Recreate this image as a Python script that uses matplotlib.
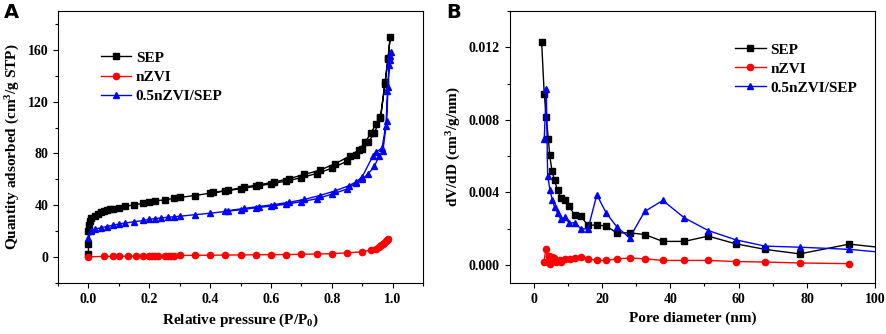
import matplotlib.pyplot as plt
from matplotlib.ticker import MultipleLocator

plt.rcParams['font.family'] = ['Liberation Serif', 'DejaVu Serif']
plt.rcParams['font.weight'] = 'bold'
plt.rcParams['mathtext.default'] = 'regular'

# Panel A: N2 isotherms (adsorption branch then desorption branch)
sep_p = [0.0, 0.0, 0.0, 0.002, 0.005, 0.01, 0.02, 0.03, 0.04, 0.05, 0.06, 0.07, 0.08, 0.1,
         0.12, 0.15, 0.18, 0.2, 0.22, 0.25, 0.28, 0.3, 0.35, 0.4, 0.45, 0.5, 0.55, 0.6,
         0.65, 0.7, 0.75, 0.8, 0.85, 0.88, 0.9, 0.92, 0.94, 0.96, 0.975, 0.985, 0.992,
         0.985, 0.975, 0.96, 0.945, 0.93, 0.91, 0.89, 0.86, 0.81, 0.76, 0.71, 0.66,
         0.61, 0.56, 0.51, 0.46, 0.41]
sep_q = [2, 10, 20, 25, 28, 30, 32, 33.5, 34.5, 35.3, 36, 36.7, 37.3, 38.2,
         39.2, 40.2, 41.5, 42.5, 43.3, 44.2, 45.2, 46, 47.5, 49.3, 51, 52.8, 54.6, 56.5,
         58.6, 61.3, 64.5, 68.5, 74, 79, 83.5, 88.5, 96, 107, 135, 153, 170,
         154, 134, 108, 103, 96, 89, 83, 78, 72, 67, 63.8, 60.5, 58, 55.7, 54, 51.5, 50]

nzvi_p = [0.0, 0.05, 0.08, 0.1, 0.13, 0.155, 0.18, 0.2, 0.21, 0.22, 0.23, 0.25, 0.26,
          0.27, 0.28, 0.3, 0.35, 0.4, 0.45, 0.5, 0.55, 0.6, 0.65, 0.7, 0.75, 0.8, 0.85,
          0.9, 0.93, 0.945, 0.955, 0.962, 0.968, 0.973, 0.977, 0.98, 0.983, 0.985]
nzvi_q = [0.2, 0.4, 0.5, 0.6, 0.6, 0.7, 0.8, 0.8, 0.9, 0.9, 0.9, 1.0, 1.0,
          1.0, 1.1, 1.2, 1.3, 1.4, 1.5, 1.6, 1.7, 1.8, 1.9, 2.1, 2.3, 2.6, 3.2,
          4.0, 5.5, 6.5, 8, 9, 10, 11, 12, 13, 13.5, 14]

mix_p = [0.0, 0.01, 0.02, 0.04, 0.06, 0.08, 0.1, 0.12, 0.15, 0.18, 0.2, 0.22, 0.24,
         0.26, 0.28, 0.3, 0.35, 0.4, 0.45, 0.5, 0.55, 0.6, 0.65, 0.7, 0.75, 0.8, 0.85,
         0.88, 0.9, 0.92, 0.94, 0.955, 0.968, 0.978, 0.983, 0.988, 0.992, 0.994,
         0.99, 0.985, 0.98, 0.965, 0.945, 0.935, 0.9, 0.88, 0.855, 0.81, 0.76, 0.71,
         0.66, 0.61, 0.56, 0.51, 0.46]
mix_q = [15, 20, 21.5, 22.5, 23.5, 24.5, 25.5, 26.2, 27.2, 28.2, 29, 29.7, 30.2,
         30.7, 31, 31.5, 32.7, 33.8, 35.2, 36.5, 38, 39.3, 40.8, 42.7, 45, 48.5, 52.5,
         57, 60, 64.5, 70, 78, 82, 101, 128, 148, 155, 158,
         152, 131, 105, 84, 81, 78, 62, 58, 55, 51, 47.5, 44.5, 42.3, 40.5, 39, 37.5, 35.8]

# Panel B: pore size distribution
sep_d = [2.34, 3.1, 3.7, 4.3, 4.7, 5.4, 6.15, 7.0, 8.0, 9.2, 10.4, 12.1, 13.8, 15.9,
         18.5, 21.2, 24.4, 28.1, 32.5, 37.8, 44.1, 51.1, 59.1, 67.7, 77.9, 92.4, 110]
sep_v = [0.01229, 0.00943, 0.00814, 0.00695, 0.00603, 0.00516, 0.00465, 0.0041,
         0.0037, 0.00355, 0.00322, 0.00272, 0.00268, 0.00217, 0.0022, 0.00213,
         0.00176, 0.00176, 0.00167, 0.00129, 0.00129, 0.00158, 0.00116, 0.00085,
         0.0006, 0.00114, 0.00078]

nzvi_d = [3.0, 3.6, 4.2, 4.5, 4.9, 5.4, 6.1, 6.6, 7.6, 8.1, 9.1, 10.5, 12.1, 13.8,
          15.9, 18.5, 21.2, 24.4, 28.1, 32.5, 37.8, 44.1, 51.1, 59.1, 67.7, 77.9, 92.4]
nzvi_v = [0.00015, 0.00088, 0.00015, 0.0005, 0.00006, 0.00042, 0.00037, 0.00018,
          0.00024, 0.00018, 0.00033, 0.00033, 0.00037, 0.00042, 0.00033, 0.00024,
          0.00024, 0.00033, 0.00037, 0.00033, 0.00024, 0.00024, 0.00024, 0.00018,
          0.00015, 0.0001, 0.00006]

mix_d = [3.1, 3.7, 4.1, 4.8, 5.5, 6.15, 7.0, 8.0, 9.2, 10.4, 12.1, 13.8, 15.9, 18.5,
         21.2, 24.4, 28.1, 32.5, 37.8, 44.1, 51.1, 59.1, 67.7, 77.9, 92.4, 110]
mix_v = [0.00695, 0.0097, 0.00492, 0.0041, 0.00355, 0.00318, 0.00287, 0.0025,
         0.00263, 0.0023, 0.00232, 0.00198, 0.00198, 0.00386, 0.00287, 0.00208,
         0.00149, 0.00294, 0.00355, 0.00259, 0.00189, 0.00138, 0.00103, 0.00097,
         0.00085, 0.00055]

labels = ["SEP", "nZVI", "0.5nZVI/SEP"]

fig = plt.figure(figsize=(8.86, 3.34), dpi=100)
axA = fig.add_axes([0.0655, 0.153, 0.412, 0.814])
axB = fig.add_axes([0.5753, 0.153, 0.4126, 0.814])


def style(ax):
    ax.tick_params(which="both", direction="out", top=False, right=False, labelsize=10)
    ax.tick_params(which="major", length=3.5, width=0.8)
    ax.tick_params(which="minor", length=2, width=0.8)
    for lab in ax.get_xticklabels() + ax.get_yticklabels():
        lab.set_fontweight("bold")
    for s in ax.spines.values():
        s.set_linewidth(0.8)


kw = dict(lw=1.0, ms=4.5)
axA.plot(sep_p, sep_q, "-s", color="black", label=labels[0], **kw)
axA.plot(nzvi_p, nzvi_q, "-o", color="red", label=labels[1], **kw)
axA.plot(mix_p, mix_q, "-^", color="blue", label=labels[2], **kw)
axA.set_xlim(-0.1, 1.1)
axA.set_ylim(-20, 190)
axA.xaxis.set_major_locator(MultipleLocator(0.2))
axA.xaxis.set_minor_locator(MultipleLocator(0.1))
axA.yaxis.set_major_locator(MultipleLocator(40))
axA.yaxis.set_minor_locator(MultipleLocator(20))
axA.xaxis.set_major_formatter(plt.FormatStrFormatter("%.1f"))
axA.set_xlabel("Relative pressure (P/P$_0$)", fontsize=11, fontweight="bold", labelpad=4)
axA.set_ylabel("Quantity adsorbed (cm$^3$/g STP)", fontsize=11, fontweight="bold", labelpad=4)
axA.legend(loc="upper left", bbox_to_anchor=(0.1, 0.875), frameon=False, fontsize=11,
           handlelength=2.0, handletextpad=0.3, labelspacing=0.35, borderaxespad=0)
style(axA)

axB.plot(sep_d, sep_v, "-s", color="black", label=labels[0], **kw)
axB.plot(nzvi_d, nzvi_v, "-o", color="red", label=labels[1], **kw)
axB.plot(mix_d, mix_v, "-^", color="blue", label=labels[2], **kw)
axB.set_xlim(-7, 100)
axB.set_ylim(-0.001, 0.014)
axB.xaxis.set_major_locator(MultipleLocator(20))
axB.xaxis.set_minor_locator(MultipleLocator(10))
axB.yaxis.set_major_locator(MultipleLocator(0.004))
axB.yaxis.set_minor_locator(MultipleLocator(0.002))
axB.yaxis.set_major_formatter(plt.FormatStrFormatter("%.3f"))
axB.set_xlabel("Pore diameter (nm)", fontsize=11, fontweight="bold", labelpad=4)
axB.set_ylabel("dV/dD (cm$^3$/g/nm)", fontsize=11, fontweight="bold", labelpad=4)
axB.legend(loc="upper left", bbox_to_anchor=(0.6, 0.905), frameon=False, fontsize=11,
           handlelength=2.0, handletextpad=0.3, labelspacing=0.35, borderaxespad=0)
style(axB)

fig.text(0.004, 0.945, "A", fontsize=14, fontweight="bold", family="DejaVu Sans")
fig.text(0.504, 0.945, "B", fontsize=14, fontweight="bold", family="DejaVu Sans")

fig.savefig("out.png", dpi=100)
